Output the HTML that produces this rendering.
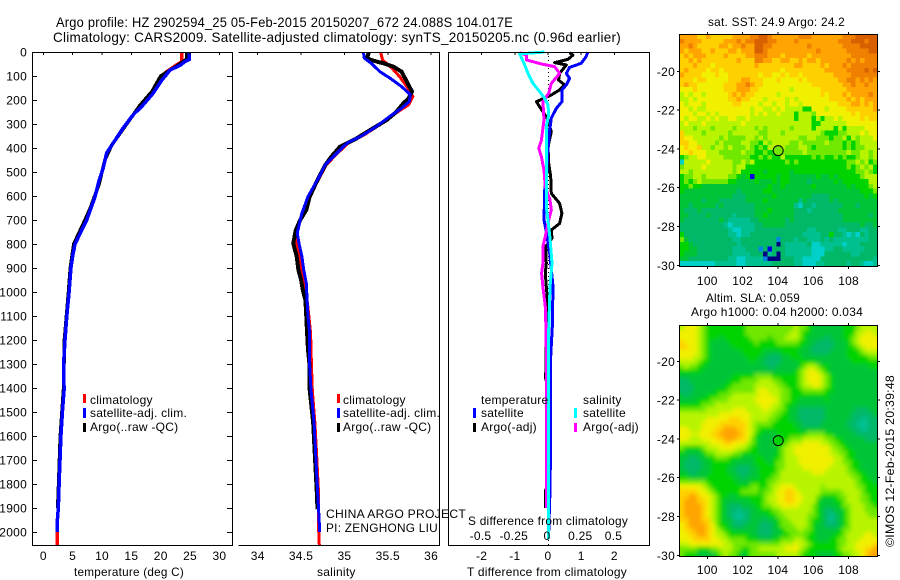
<!DOCTYPE html>
<html lang="en">
<head>
<meta charset="utf-8">
<title>Argo profile 2902594_25</title>
<style>
html,body{margin:0;padding:0;background:#fff;width:900px;height:580px;overflow:hidden}
svg{display:block}
text{font-family:"Liberation Sans",sans-serif;font-size:12px;fill:#000;letter-spacing:0.25px}
.frame{fill:none;stroke:#000;stroke-width:1;shape-rendering:crispEdges}
.mark{shape-rendering:crispEdges}
</style>
</head>
<body>
<svg id="chart" xmlns="http://www.w3.org/2000/svg" width="900" height="580" viewBox="0 0 900 580">
<defs>
<clipPath id="slaClip"><rect x="680" y="326" width="198" height="231"/></clipPath>
<filter id="slaSmooth" x="-5%" y="-5%" width="110%" height="110%">
<feGaussianBlur in="SourceGraphic" stdDeviation="2.2" result="soft"/>
<feMerge><feMergeNode in="SourceGraphic"/><feMergeNode in="soft"/></feMerge>
</filter>
</defs>
<rect x="0" y="0" width="900" height="580" fill="#fff"/>
<g id="sstMap"></g>
<g clip-path="url(#slaClip)"><g id="slaMap" filter="url(#slaSmooth)"></g></g>
<g id="traces"></g>
<g id="ticks"></g>

<path class="frame" d="M32.5 52.5H232.5V545.5H32.5Z"/>
<path class="frame" d="M238.5 52.5H439.5V545.5H238.5"/>
<rect class="frame" x="448.5" y="52.5" width="201" height="493"/>
<rect class="frame" x="679.5" y="34.5" width="198" height="232"/>
<rect class="frame" x="679.5" y="325.5" width="198" height="231"/>

<text x="56" y="27" style="font-size:14px" textLength="457" lengthAdjust="spacingAndGlyphs">Argo profile: HZ 2902594_25 05-Feb-2015 20150207_672 24.088S 104.017E</text>
<text x="53" y="42" style="font-size:14px" textLength="568" lengthAdjust="spacingAndGlyphs">Climatology: CARS2009. Satellite-adjusted climatology: synTS_20150205.nc (0.96d earlier)</text>

<text x="74" y="576" textLength="110" lengthAdjust="spacingAndGlyphs">temperature (deg C)</text>
<text x="317" y="576">salinity</text>
<text x="467" y="576" textLength="160" lengthAdjust="spacingAndGlyphs">T difference from climatology</text>
<text x="468" y="525" textLength="160" lengthAdjust="spacingAndGlyphs">S difference from climatology</text>

<g>
<rect class="mark" x="83" y="394" width="3" height="9" fill="#f00"/>
<rect class="mark" x="83" y="408" width="3" height="10" fill="#00f"/>
<rect class="mark" x="83" y="423" width="3" height="9" fill="#000"/>
<text x="90" y="404">climatology</text>
<text x="90" y="417">satellite-adj. clim.</text>
<text x="90" y="431">Argo(..raw -QC)</text>
</g>
<g>
<rect class="mark" x="337" y="394" width="3" height="9" fill="#f00"/>
<rect class="mark" x="337" y="408" width="3" height="10" fill="#00f"/>
<rect class="mark" x="337" y="423" width="3" height="9" fill="#000"/>
<text x="343" y="404">climatology</text>
<text x="343" y="417">satellite-adj. clim.</text>
<text x="343" y="431">Argo(..raw -QC)</text>
</g>
<g>
<text x="481" y="404">temperature</text>
<text x="583" y="404">salinity</text>
<rect class="mark" x="473" y="408" width="3" height="10" fill="#00f"/>
<rect class="mark" x="473" y="423" width="3" height="9" fill="#000"/>
<rect class="mark" x="574" y="408" width="3" height="10" fill="#0ff"/>
<rect class="mark" x="574" y="423" width="3" height="9" fill="#f0f"/>
<text x="481" y="417">satellite</text>
<text x="481" y="431">Argo(-adj)</text>
<text x="583" y="417">satellite</text>
<text x="583" y="431">Argo(-adj)</text>
</g>

<text x="326" y="518" textLength="140" lengthAdjust="spacingAndGlyphs">CHINA ARGO PROJECT</text>
<text x="326" y="532" textLength="112" lengthAdjust="spacingAndGlyphs">PI: ZENGHONG LIU</text>

<text x="708" y="26" textLength="137" lengthAdjust="spacingAndGlyphs">sat. SST: 24.9 Argo: 24.2</text>
<text x="706" y="302" textLength="94" lengthAdjust="spacingAndGlyphs">Altim. SLA: 0.059</text>
<text x="691" y="316" textLength="172" lengthAdjust="spacingAndGlyphs">Argo h1000: 0.04 h2000: 0.034</text>
<text transform="translate(894 547) rotate(-90)" textLength="172" lengthAdjust="spacingAndGlyphs">©IMOS 12-Feb-2015 20:39:48</text>
</svg>

<script>
// ---- temperature profile data (depth in dbar, temperature in deg C)
const tempClimDepth = [0,40,54,82,110,150,186,213,262,317,379,421,483,535,604,700,800,850,900,1000,1100,1200,1300,1408,1500,1600,1700,1800,1900,1950,2054];
const tempClimValue = [23.6,23.6,22.7,21,19.9,19,18.2,17,15.3,13.6,11.9,10.8,10.2,9.5,8.8,7.4,5.4,5,4.7,4.4,4,3.7,3.45,3.55,3.25,3,2.85,2.7,2.55,2.4,2.4];
const tempSatDepth = [0,30,40,54,75,117,172,221,262,317,379,421,483,535,604,700,800,850,900,1000,1100,1200,1300,1408,1500,1600,1700,1800,1900,1950,2000];
const tempSatValue = [24.87,24.9,24.1,23.4,21.6,20.2,18.7,17,15.3,13.6,11.9,10.8,10.2,9.5,8.8,7.4,5.4,5,4.7,4.4,4,3.7,3.45,3.55,3.25,3,2.85,2.7,2.55,2.4,2.4];
const tempArgoDepth = [0,30,54,100,165,221,290,388,450,550,650,700,800,900,1000,1200,1400,1600,1800,1900];
const tempArgoValue = [24.5,24.4,23,20,18.5,16.5,14.5,11.65,10.5,9.5,8,7.1,5.2,4.6,4.3,3.6,3.45,2.9,2.6,2.45];

// ---- salinity profile data
const salClimDepth = [3,33,68,104,144,186,220,269,310,345,380,422,470,533,602,672,727,776,797,852,908,964,1033,1103,1172,1311,1408,1546,1685,1825,1963,2054];
const salClimValue = [35.42,35.44,35.55,35.64,35.72,35.79,35.74,35.53,35.38,35.23,35.04,34.92,34.79,34.7,34.59,34.52,34.47,34.45,34.45,34.48,34.51,34.54,34.57,34.59,34.61,34.62,34.63,34.66,34.68,34.7,34.7,34.71];
const salSatDepth = [3,26,47,82,110,144,178,206,234,269,310,345,380,422,470,533,602,672,700,755,797,852,908,964,1033,1103,1172,1311,1408,1546,1685,1825,1963,2000];
const salSatValue = [35.22,35.23,35.31,35.41,35.53,35.66,35.76,35.75,35.66,35.52,35.37,35.22,35.03,34.91,34.78,34.69,34.58,34.51,34.49,34.457,34.476,34.51,34.53,34.56,34.57,34.58,34.6,34.6,34.615,34.65,34.67,34.69,34.71,34.71];
const salArgoDepth = [3,26,36,47,61,82,117,165,193,214,249,283,318,360,394,436,471,533,603,658,700,742,797,852,908,950,992,1033,1103,1172,1242,1311,1408,1546,1685,1825,1905];
const salArgoValue = [35.28,35.26,35.33,35.45,35.565,35.66,35.71,35.78,35.74,35.68,35.6,35.49,35.33,35.14,34.95,34.85,34.78,34.69,34.6,34.56,34.49,34.44,34.41,34.45,34.47,34.5,34.52,34.55,34.56,34.57,34.58,34.6,34.6,34.64,34.66,34.68,34.69];

// ---- difference-from-climatology data
const diffTSatDepth = [0,19,47,64,89,110,137,158,207,235,276,325,408,506,575,700,769,798,839,978,1144,1269,1436,1600,1825,2000];
const diffTSatValue = [1.2,1.15,1,0.65,0.55,0.65,0.55,0.42,0.42,0.25,0.1,0.05,0,-0.04,-0.1,-0.12,-0.02,0,0.05,0.15,0.13,0.08,0.08,0.08,0.06,0.02];
const diffTArgoDepth = [3,13,31,44,54,89,117,137,158,179,207,249,283,332,394,464,519,589,631,672,714,742,776,811,881,922,978,1061,1240,1360,1400,1800,1825,1900];
const diffTArgoValue = [0.65,0.75,0.6,0.2,0.55,0.35,0.32,0.5,0.35,0.1,-0.35,-0.15,0,0.1,0,0.02,0.08,0.1,0.35,0.42,0.35,0.1,0.12,-0.07,-0.05,-0.08,-0.05,0,-0.06,-0.07,0,0,-0.07,-0.07];
const diffSSatDepth = [0,8,54,89,131,165,193,221,262,311,506,644,728,776,811,881,978,1158,1325,1600,2030];
const diffSSatValue = [-0.025,-0.213,-0.175,-0.15,-0.113,-0.063,-0.025,0,0.005,-0.0125,-0.0125,-0.0125,0.005,0.015,0.02,0.03,0.015,0.005,0.003,0.003,0.004];
const diffSArgoDepth = [3,13,33,50,61,89,131,172,207,283,367,401,436,492,561,617,658,700,769,811,881,922,978,1061,1158,1269,1436,1900];
const diffSArgoValue = [-0.213,-0.163,-0.163,-0.05,0.05,0.088,0.025,0.005,-0.038,-0.03,-0.05,-0.07,-0.05,-0.03,-0.02,0.015,0.025,0.005,-0.02,-0.038,-0.038,-0.048,-0.038,-0.02,-0.015,-0.012,-0.012,-0.012];

// ---- axis tick labels
const depthTicks = [0,100,200,300,400,500,600,700,800,900,1000,1100,1200,1300,1400,1500,1600,1700,1800,1900,2000];
const tempTicks = [0,5,10,15,20,25,30];
const salTicks = [34,34.5,35,35.5,36];
const diffTTicks = [-2,-1,0,1,2];
const diffSTicks = [-0.5,-0.25,0,0.25,0.5];
const lonTicks = [100,102,104,106,108];
const latTicks = [20,22,24,26,28,30];

// ---- profile location
const argoLon = 104.017;
const argoLat = 24.088;

// ---- SST map colour levels (rows north to south, columns west to east)
const sstRows = [
[12,12,12,12,11,11,12,11,11,11,11,11,12,12,12,12,13,13,14,14,13,12,12,12,12,12,12,13,13,13,12,12,12,12,12,12,12,13,13,13,14,14,14,14,14],
[13,12,12,12,12,11,11,11,11,11,12,12,12,13,12,13,13,14,14,14,13,13,12,12,12,12,13,12,12,12,12,12,12,12,12,12,13,13,13,14,14,14,13,14,14],
[12,12,13,12,11,11,11,11,11,12,12,11,12,12,13,12,12,14,14,13,13,12,12,12,12,12,12,12,12,13,12,12,12,12,12,12,12,13,13,13,13,14,14,14,14],
[12,11,12,12,12,11,11,12,11,11,11,12,12,11,12,12,12,14,14,13,12,12,12,12,12,12,12,12,12,12,12,13,12,12,12,12,12,12,13,13,13,13,13,14,14],
[11,12,11,12,12,12,11,11,11,11,12,11,11,11,11,12,12,13,13,13,12,12,12,11,12,12,12,12,12,11,12,12,12,12,12,12,12,12,12,13,13,13,13,13,13],
[11,11,12,11,12,11,11,11,11,11,11,11,11,12,11,11,11,13,13,12,12,11,11,12,12,11,11,12,11,12,12,11,12,12,12,12,12,12,13,12,13,12,13,13,13],
[11,11,11,12,11,11,11,10,11,11,11,11,11,11,11,11,11,12,11,11,11,11,11,11,11,11,12,12,11,11,11,11,12,11,12,12,12,13,12,13,13,13,13,13,13],
[11,12,11,11,11,11,10,11,11,10,11,11,11,11,11,11,11,11,11,11,11,11,11,10,11,11,11,11,11,11,11,11,11,12,12,12,12,12,13,13,13,13,14,13,14],
[12,11,11,11,11,10,10,10,11,10,10,11,11,11,11,11,11,11,10,11,11,10,10,11,10,11,11,10,11,11,11,11,11,11,11,12,12,12,12,13,13,13,13,13,13],
[11,11,11,10,11,11,10,10,10,10,10,11,11,11,12,12,11,11,11,10,10,10,11,10,10,10,10,11,10,11,11,11,11,11,11,11,12,12,13,13,12,13,12,13,12],
[11,12,11,11,10,10,10,10,10,10,11,11,11,12,12,13,12,11,11,10,10,10,10,10,10,10,10,10,10,10,11,11,11,11,11,11,11,12,12,13,12,12,13,12,12],
[10,10,10,11,10,10,10,10,10,10,11,11,11,12,12,12,11,11,10,10,10,10,10,10,10,9,10,10,10,10,10,10,11,11,11,11,11,11,12,12,12,12,12,12,12],
[9,10,9,10,10,9,10,10,10,10,10,11,12,11,12,11,11,10,10,10,10,10,9,10,10,10,10,10,10,10,10,10,11,10,11,11,11,12,11,12,12,12,12,13,12],
[9,9,10,9,10,10,10,10,10,10,10,11,11,12,11,11,10,10,10,9,10,10,10,10,9,10,9,10,10,10,10,10,10,10,11,11,11,11,12,11,12,11,12,12,12],
[10,9,10,10,10,9,10,10,10,10,10,10,11,11,10,10,10,10,9,10,10,9,10,10,9,10,10,9,10,10,10,10,10,10,10,10,11,11,11,12,12,11,12,11,12],
[10,10,9,10,9,9,10,10,10,10,10,10,10,10,10,10,9,10,10,9,9,10,9,10,9,9,9,9,7,7,10,10,10,9,10,10,10,10,11,11,11,11,11,11,12],
[10,10,10,9,10,10,9,10,9,10,10,10,10,10,10,10,9,10,9,10,9,9,10,9,9,9,7,9,9,9,8,10,10,10,10,10,10,10,10,11,10,11,11,11,11],
[10,9,10,10,9,9,10,9,10,9,9,10,10,9,9,10,9,9,9,9,9,9,9,9,9,9,7,9,9,9,7,9,7,9,9,10,9,10,10,10,10,11,10,11,11],
[9,10,9,9,9,10,9,9,9,9,9,9,9,9,10,9,9,9,9,9,9,9,9,9,9,9,9,9,9,9,7,7,9,9,9,9,9,9,10,10,10,10,10,10,10],
[9,9,9,8,9,9,9,8,9,9,9,9,8,9,9,9,9,8,9,8,9,9,9,9,9,8,9,9,9,9,7,9,9,9,9,7,9,7,9,9,9,9,10,10,10],
[11,9,9,9,9,8,9,9,9,9,9,8,9,9,9,9,9,9,8,8,9,9,9,8,9,9,9,9,9,9,9,9,8,7,7,7,8,8,9,9,9,10,9,10,10],
[11,10,10,9,9,9,9,9,9,8,9,8,8,8,8,9,9,8,9,8,9,9,9,9,9,9,9,8,8,9,9,8,8,8,7,8,8,9,7,9,8,9,9,9,10],
[11,11,10,10,9,9,9,9,8,9,8,8,8,8,9,9,8,8,7,9,8,9,9,9,9,8,8,9,8,8,8,8,8,9,8,8,8,7,8,7,8,9,9,9,9],
[10,11,10,10,11,9,9,8,9,9,8,9,8,8,8,9,8,7,8,7,9,9,9,9,8,8,8,9,9,8,7,8,8,8,8,8,8,7,8,7,8,8,9,9,9],
[10,10,11,10,10,10,9,9,9,8,8,8,8,8,9,8,8,7,7,8,7,7,8,8,8,8,8,8,9,8,8,8,8,8,8,8,8,8,9,8,8,9,9,8,9],
[7,8,9,9,10,10,9,9,9,9,8,8,8,8,8,8,7,7,8,7,8,7,7,9,7,7,7,7,7,7,8,7,8,7,7,8,7,8,7,7,8,9,9,8,9],
[3,9,9,9,9,9,10,9,9,9,9,9,8,8,9,8,9,7,7,7,7,7,7,7,8,7,8,7,7,7,7,7,7,7,7,7,7,7,8,8,9,8,9,7,8],
[8,9,9,9,9,10,9,9,9,9,9,9,8,9,9,7,7,7,7,7,7,7,7,7,7,7,7,7,7,7,7,7,7,7,7,7,7,7,8,7,8,9,8,9,7],
[9,9,8,9,9,9,9,9,9,9,9,9,8,9,7,7,7,7,7,6,7,7,7,7,7,6,7,7,7,7,7,7,7,7,7,7,7,7,7,7,8,8,9,8,7],
[7,8,8,9,9,8,9,9,9,9,9,8,8,7,6,7,1,7,7,7,7,7,6,7,7,6,6,6,6,6,6,7,6,6,7,6,7,7,7,7,7,8,9,9,9],
[7,8,7,8,9,8,8,8,8,8,8,7,7,6,6,6,6,7,6,6,6,7,6,7,7,6,6,6,6,5,6,6,6,6,6,7,6,7,7,7,7,7,7,9,9],
[7,7,8,7,7,6,6,6,6,6,6,6,6,6,6,6,6,6,6,6,7,6,6,7,6,6,6,6,6,6,7,6,6,6,6,6,6,6,7,6,7,7,7,8,9],
[7,6,6,6,6,6,6,6,6,6,6,6,6,5,6,6,6,6,6,7,7,6,6,6,6,6,6,6,6,6,6,6,6,6,6,6,6,6,6,6,6,7,7,7,8],
[6,6,6,6,6,6,6,6,6,6,6,6,5,5,5,6,6,6,6,6,6,7,6,6,6,6,6,6,6,6,5,5,5,5,6,6,6,6,6,6,6,6,7,6,7],
[6,6,6,6,6,5,6,6,6,5,5,5,5,5,5,6,6,6,6,7,6,6,6,6,6,6,6,4,6,5,5,5,5,5,6,5,6,6,6,6,6,6,6,6,6],
[6,6,5,6,6,6,6,6,5,6,5,5,5,5,5,5,5,6,6,6,6,6,6,6,6,6,4,3,5,5,4,5,5,5,5,5,5,6,6,6,5,6,6,6,6],
[6,5,5,5,6,5,5,5,5,5,5,5,5,5,5,5,5,6,6,6,7,6,6,6,6,6,5,5,5,4,5,5,5,5,5,5,6,6,6,6,6,6,6,6,6],
[6,6,5,5,5,5,6,5,5,5,5,5,4,5,5,5,5,6,6,7,6,6,6,6,6,6,5,5,5,5,5,5,5,5,5,5,5,6,6,6,6,6,6,5,6],
[6,5,5,5,5,5,5,5,5,6,5,4,4,4,4,4,5,5,6,6,6,6,6,6,5,6,5,5,5,5,5,5,5,5,5,5,5,6,6,6,6,6,6,6,6],
[5,5,5,5,5,5,5,5,5,5,4,3,4,4,4,4,4,5,5,6,6,6,6,6,5,5,5,5,5,5,5,5,5,5,5,5,5,5,5,5,5,6,5,5,6],
[5,5,5,5,5,5,5,5,5,5,5,4,3,3,4,4,4,5,5,5,5,5,5,5,5,5,5,5,5,4,4,5,5,5,5,5,4,4,5,5,5,4,4,5,5],
[7,5,5,5,5,5,5,5,5,5,5,4,4,3,4,4,5,5,5,5,5,5,5,5,5,5,5,5,4,4,4,4,5,5,7,5,5,4,3,4,3,5,4,5,5],
[8,6,5,5,5,5,5,5,5,5,5,5,4,4,5,5,5,5,5,5,5,5,2,5,5,5,4,5,5,4,4,4,5,4,5,4,4,4,4,4,4,4,4,5,5],
[7,7,6,5,5,5,5,5,5,5,5,5,5,4,5,5,5,5,5,5,5,5,0,5,4,4,4,4,4,5,3,3,4,4,4,4,4,3,4,4,4,5,5,5,5],
[7,7,6,6,5,5,5,5,5,5,5,5,4,4,4,5,5,5,2,5,1,5,5,5,4,4,4,4,4,4,3,3,3,4,4,5,5,4,4,4,4,4,5,5,5],
[7,6,6,6,5,5,5,5,5,5,5,5,4,4,4,4,5,5,5,0,4,5,0,5,4,4,4,4,4,4,3,3,3,5,5,5,5,5,5,4,4,5,5,5,5],
[6,6,5,5,5,5,5,5,5,5,5,4,4,3,3,4,4,4,4,2,0,0,0,5,5,5,4,4,3,3,3,3,5,5,5,5,5,5,5,5,5,5,5,5,4],
[3,3,3,3,3,3,3,3,4,4,4,4,4,3,3,4,4,4,4,4,4,5,5,5,5,5,4,4,3,3,3,4,4,5,5,5,5,5,4,5,5,4,3,3,4]
];

// ---- sea level anomaly map colour levels
const slaRows = [
[9,10,10,10,9,8,7,7,7,7,7,7,7,7,7,8,8,8,8,8,8,8,8,8,8,8,9,8,8,7,6,6,6,6,6,6,6,7,7,7,8,9,9,9,9],
[10,10,10,10,9,8,7,7,7,7,7,7,7,7,7,8,8,8,8,8,8,8,8,8,8,9,9,8,7,7,6,6,6,6,6,6,6,7,7,7,9,9,10,10,9],
[10,10,10,10,9,8,7,7,7,6,7,7,7,7,7,7,8,8,8,8,7,8,8,8,9,9,9,8,7,6,6,6,6,5,6,6,6,7,7,8,9,10,10,10,10],
[11,10,10,10,9,8,7,6,6,6,6,7,7,7,7,7,7,8,7,7,7,7,8,8,8,8,8,7,7,6,6,5,5,5,5,6,6,6,7,8,9,10,10,10,10],
[11,11,10,10,9,8,7,6,6,6,6,6,7,7,7,7,7,7,7,7,7,7,7,7,7,7,7,7,6,6,5,5,5,5,5,6,6,6,7,7,8,9,10,10,10],
[10,10,10,10,9,8,7,6,6,6,6,6,6,6,7,7,7,7,7,6,6,6,6,7,7,7,7,6,6,6,5,5,5,5,6,6,6,6,7,7,7,8,9,9,9],
[10,10,10,9,9,8,7,6,6,6,6,6,6,6,6,7,7,7,6,6,5,5,5,6,6,7,7,7,6,6,6,6,6,6,6,6,6,6,7,7,7,7,7,8,8],
[9,9,9,9,8,7,7,6,6,6,6,6,6,6,6,6,7,6,6,5,5,5,5,6,6,6,6,7,7,7,7,6,6,6,6,6,6,6,6,7,7,7,7,7,7],
[8,9,8,8,7,7,6,6,6,6,6,6,6,6,6,6,6,6,6,6,5,5,6,6,6,6,6,7,8,9,9,8,7,7,6,6,6,6,6,6,6,6,6,7,7],
[7,7,7,7,7,6,6,6,6,6,6,6,6,6,6,6,6,6,6,6,6,6,6,6,6,6,7,8,9,10,10,9,8,7,6,6,6,6,6,6,6,6,6,6,6],
[6,6,6,6,6,6,6,6,6,6,6,6,7,7,7,7,7,8,8,8,8,7,7,7,7,7,7,8,9,10,10,10,9,8,7,6,6,6,6,6,6,6,6,6,6],
[5,5,6,6,6,6,6,6,6,6,6,7,7,7,8,8,8,8,9,9,9,8,8,7,7,7,7,8,9,10,10,10,9,8,7,6,6,6,6,6,6,6,6,6,6],
[5,5,5,6,6,6,6,6,6,6,7,7,8,8,8,8,8,9,9,9,9,9,8,8,7,7,7,8,9,9,10,10,9,8,7,6,6,6,6,6,6,6,6,6,6],
[5,5,5,6,6,6,6,6,7,7,7,8,8,8,8,8,8,9,10,10,9,9,9,8,8,7,7,7,8,8,8,8,8,7,7,6,6,6,6,6,6,6,6,6,6],
[6,5,6,6,6,6,7,7,7,8,8,8,9,9,9,9,9,9,10,10,10,9,9,8,8,7,7,7,7,7,7,7,7,7,6,6,6,6,6,6,6,6,6,6,6],
[6,6,6,6,7,7,7,8,8,8,8,9,9,9,9,9,9,10,10,10,10,10,9,8,8,7,7,6,6,6,6,6,6,7,6,6,6,6,6,6,6,6,6,6,6],
[7,7,7,7,7,8,8,8,9,9,9,9,9,9,9,9,9,9,10,10,10,9,9,8,7,7,6,6,6,6,6,6,6,6,6,6,6,6,6,6,6,6,6,6,6],
[8,8,8,8,8,8,9,9,9,9,9,9,10,10,10,9,9,9,9,10,9,9,8,8,7,6,6,5,5,5,5,5,5,6,6,6,6,6,6,6,5,5,5,6,6],
[9,9,9,9,9,9,9,9,9,10,10,10,10,10,10,10,9,9,9,9,9,8,8,7,7,6,6,5,5,5,5,5,5,6,6,6,6,6,6,5,5,5,5,5,6],
[9,9,9,9,9,9,10,10,10,10,10,11,11,11,10,10,9,9,9,9,8,8,7,7,7,6,6,5,5,5,5,5,5,6,6,6,6,6,6,5,5,4,4,5,5],
[9,9,9,9,9,10,10,10,10,11,11,11,11,11,11,10,9,8,8,8,8,7,7,7,7,7,6,6,5,5,5,5,6,6,6,6,6,6,5,5,4,4,4,5,5],
[10,10,9,9,9,10,10,10,11,11,12,12,12,11,11,10,9,8,7,7,7,7,7,7,7,7,7,6,6,6,6,6,6,6,6,6,6,6,6,5,5,4,4,5,5],
[10,10,10,9,10,10,10,11,11,12,12,12,12,12,11,10,9,7,7,6,6,6,7,7,7,7,7,7,7,8,8,8,8,7,7,6,6,6,6,6,5,5,5,5,5],
[10,10,9,9,9,10,10,10,11,11,12,12,12,11,11,10,8,7,6,6,6,6,7,7,7,8,8,8,9,9,9,9,9,8,8,7,7,6,6,6,6,6,5,5,5],
[9,9,9,9,9,9,9,10,10,10,11,11,10,10,10,9,8,7,6,6,6,6,7,7,8,9,9,9,10,10,10,10,9,9,8,8,7,7,6,6,6,6,6,6,6],
[8,7,7,7,7,8,9,9,9,10,10,10,10,9,9,8,7,7,6,6,6,6,7,8,9,9,10,10,10,10,10,10,10,10,9,8,8,7,7,6,6,6,6,6,6],
[7,6,6,6,6,7,8,8,9,9,9,9,8,8,7,7,7,7,6,6,6,6,7,8,9,9,10,10,10,10,10,10,10,10,9,9,8,8,7,7,6,6,6,6,6],
[6,6,5,5,6,6,7,7,8,8,8,7,7,7,6,6,6,7,7,6,6,7,7,8,9,9,9,10,10,10,10,10,10,10,10,9,9,8,7,7,6,6,6,6,6],
[6,5,5,5,5,6,6,7,7,7,7,7,6,6,6,6,6,7,7,7,6,7,8,8,9,9,9,10,10,10,10,10,10,10,10,9,9,8,8,7,7,6,6,6,6],
[6,5,5,5,5,6,6,7,7,7,7,6,6,5,5,5,6,6,7,7,7,7,8,8,9,9,9,9,10,10,10,10,10,10,9,9,9,9,8,7,7,6,6,6,6],
[6,6,5,5,6,6,6,7,7,7,7,6,6,5,5,5,6,6,7,7,7,7,8,9,9,9,9,9,9,9,10,10,10,9,9,9,9,9,8,8,7,7,6,6,6],
[7,7,6,6,6,6,7,7,7,7,7,7,6,6,5,6,6,6,7,7,7,8,8,9,9,9,9,9,9,9,9,9,9,9,9,9,9,9,9,8,8,7,7,6,6],
[8,8,8,8,8,8,7,7,7,7,7,7,7,6,6,6,7,7,7,7,8,8,9,9,9,9,9,9,9,9,9,9,9,9,9,9,9,9,9,9,8,7,7,7,6],
[10,10,10,10,10,9,8,7,7,7,7,7,7,7,7,7,8,8,7,7,8,9,9,10,10,10,9,9,9,9,9,9,8,9,9,9,9,9,9,9,8,8,7,7,7],
[11,11,11,11,10,10,9,8,7,7,7,7,7,7,8,8,8,8,7,8,8,9,10,10,11,11,10,9,9,9,9,9,8,8,8,8,8,9,9,9,9,8,7,7,7],
[11,11,12,12,11,10,10,9,8,7,7,6,6,7,7,7,7,7,7,8,9,9,10,10,11,11,10,10,9,9,9,8,7,7,7,7,8,8,9,9,9,8,8,7,7],
[11,12,12,12,11,11,10,9,8,7,6,6,6,6,6,6,7,7,7,8,9,9,10,10,11,11,10,10,9,9,9,7,6,6,6,7,7,8,9,9,9,8,8,7,7],
[11,12,12,12,12,11,10,9,8,7,6,5,5,5,6,6,6,7,7,8,8,9,9,10,10,10,10,9,9,9,8,7,6,6,6,6,7,8,8,9,9,9,8,8,7],
[11,12,12,12,12,11,10,9,8,7,6,5,5,4,5,5,6,6,7,7,7,8,8,9,9,9,9,9,9,9,8,7,6,5,5,6,6,7,8,9,9,9,8,8,8],
[11,12,12,12,12,11,10,9,8,7,6,5,4,4,4,5,6,6,6,6,7,7,8,8,9,9,9,9,9,8,8,7,6,5,4,5,6,7,8,9,9,9,9,8,8],
[11,11,12,12,12,11,11,9,8,7,6,6,5,4,5,5,6,6,6,5,6,6,7,8,8,9,9,9,9,8,7,7,6,5,4,5,6,7,8,9,9,9,9,9,9],
[10,11,12,12,12,12,11,10,8,7,7,6,5,5,5,6,6,6,5,5,5,6,7,8,8,8,9,9,9,8,7,6,6,5,5,5,6,7,8,9,9,9,9,9,9],
[10,11,11,12,12,12,11,10,9,8,7,7,6,6,6,6,6,6,5,5,5,6,6,7,8,8,8,9,8,8,7,6,6,6,6,6,7,8,8,9,9,9,9,9,9],
[10,10,11,11,12,12,11,10,9,9,8,7,7,7,7,7,6,6,5,5,5,6,6,7,7,8,8,8,8,7,7,6,6,6,6,7,7,8,9,9,9,9,10,10,9],
[10,10,10,11,11,11,11,10,10,9,9,8,8,8,8,7,7,7,6,6,6,7,7,8,8,8,9,9,8,7,7,6,6,6,7,7,8,8,9,9,9,10,10,10,10],
[9,9,10,10,10,10,10,10,10,10,9,9,8,8,8,8,8,8,8,8,8,8,8,9,9,9,10,9,9,8,7,7,7,7,7,7,8,8,9,9,10,10,10,10,11],
[8,8,8,8,7,7,7,8,8,9,9,9,8,8,7,7,8,8,9,9,9,9,9,9,10,10,10,9,8,7,7,7,7,7,7,7,8,9,9,9,10,10,11,11,12],
[8,7,7,7,6,6,6,6,7,8,9,8,8,7,6,7,8,8,8,8,8,8,9,9,9,9,9,8,7,7,7,6,6,6,6,7,7,8,8,9,9,10,11,12,12]
];

const mapPalette = ['#000080','#0000e0','#0088e0','#00d0c8','#00c090','#00b868','#00c438','#00d400','#70e800','#b8f400','#f0f000','#ffd000','#ffa400','#f08000','#d86000'];

// ---- axis functions
const yDepth = d => 52 + 0.24 * d;
const xTemp = t => 43.3 + 5.87 * t;
const xSal = s => 257.7 + 86.7 * (s - 34);
const xDiffT = t => 548 + 33.2 * t;
const xDiffS = s => 548 + 133 * s;
const xLon = lon => 707.3 + 17.66 * (lon - 100);
const ySst = lat => 71.3 + 19.4 * (lat - 20);
const ySla = lat => 361.3 + 19.4 * (lat - 20);

const NS = 'http://www.w3.org/2000/svg';
function mk(tag, attrs, parent) {
  const el = document.createElementNS(NS, tag);
  for (const k in attrs) el.setAttribute(k, attrs[k]);
  parent.appendChild(el);
  return el;
}
const traceLayer = document.getElementById('traces');
const tickLayer = document.getElementById('ticks');
const svgRoot = document.getElementById('chart');

function drawTrace(depths, values, xFn, color, width, name) {
  const pts = depths.map((d, i) => xFn(values[i]).toFixed(1) + ',' + yDepth(d).toFixed(1)).join(' ');
  const el = mk('polyline', {points: pts, fill: 'none', stroke: color, 'stroke-width': width, 'stroke-linejoin': 'round', 'shape-rendering': 'crispEdges'}, traceLayer);
  
  
}
function tickLine(x1, y1, x2, y2) {
  const el = mk('line', {x1: x1, y1: y1, x2: x2, y2: y2, stroke: '#000', 'stroke-width': 1, 'shape-rendering': 'crispEdges'}, tickLayer);
  
  
}
function label(x, y, str, anchor) {
  const el = mk('text', {x: x, y: y, 'text-anchor': anchor}, svgRoot);
  el.textContent = str;
  
  
}

// profile traces
drawTrace(tempClimDepth, tempClimValue, xTemp, '#f00', 3.5, 'temperature-climatology-line');
drawTrace(tempArgoDepth, tempArgoValue, xTemp, '#000', 3.5, 'temperature-argo-line');
drawTrace(tempSatDepth, tempSatValue, xTemp, '#00f', 3.5, 'temperature-satellite-line');
drawTrace(salClimDepth, salClimValue, xSal, '#f00', 3, 'salinity-climatology-line');
drawTrace(salArgoDepth, salArgoValue, xSal, '#000', 4, 'salinity-argo-line');
drawTrace(salSatDepth, salSatValue, xSal, '#00f', 3, 'salinity-satellite-line');

const zeroLine = mk('line', {x1: xDiffT(0) + 0.5, y1: 52, x2: xDiffT(0) + 0.5, y2: 545, stroke: '#000', 'stroke-width': 1, 'stroke-dasharray': '1 3', 'shape-rendering': 'crispEdges'}, traceLayer);



drawTrace(diffTArgoDepth, diffTArgoValue, xDiffT, '#000', 3, 't-difference-argo-line');
drawTrace(diffTSatDepth, diffTSatValue, xDiffT, '#00f', 3, 't-difference-satellite-line');
drawTrace(diffSArgoDepth, diffSArgoValue, xDiffS, '#f0f', 3, 's-difference-argo-line');
drawTrace(diffSSatDepth, diffSSatValue, xDiffS, '#0ff', 3, 's-difference-satellite-line');

// profile axis ticks
depthTicks.forEach(d => {
  tickLine(33, Math.round(yDepth(d)) + 0.5, 37, Math.round(yDepth(d)) + 0.5);
  tickLine(227, Math.round(yDepth(d)) + 0.5, 232, Math.round(yDepth(d)) + 0.5);
  label(27, yDepth(d) + 4.5, String(d), 'end');
});
tempTicks.forEach(t => {
  tickLine(xTemp(t), 52, xTemp(t), 55);
  label(xTemp(t), 560, String(t), 'middle');
});
salTicks.forEach(s => {
  tickLine(xSal(s), 52, xSal(s), 55);
  label(xSal(s), 560, String(s), 'middle');
});
diffTTicks.forEach(t => {
  tickLine(xDiffT(t), 52, xDiffT(t), 55);
  label(xDiffT(t), 560, String(t), 'middle');
});
diffSTicks.forEach(s => {
  label(xDiffS(s) - 1, 540, String(s), 'middle');
});

// map cells
function drawMap(rows, lat0, latStep, yFn, layerId, name) {
  const layer = document.getElementById(layerId);
  const lon0 = 98.43, lonStep = 0.249;
  rows.forEach((row, r) => {
    row.forEach((v, c) => {
      const x = xLon(lon0 + lonStep * c);
      const y = yFn(lat0 + latStep * r);
      const w = xLon(lon0 + lonStep * (c + 1)) - x + 0.6;
      const h = yFn(lat0 + latStep * (r + 1)) - y + 0.6;
      const cell = mk('rect', {x: x.toFixed(2), y: y.toFixed(2), width: w.toFixed(2), height: h.toFixed(2), fill: mapPalette[v], 'shape-rendering': 'crispEdges'}, layer);
      
      
    });
  });
}
drawMap(sstRows, 18.08, 0.2490, ySst, 'sstMap', 'sst-cell');
drawMap(slaRows, 18.165, 0.2475, ySla, 'slaMap', 'sla-cell');

// map axes
function mapAxes(yFn, top, bottom, labelY) {
  lonTicks.forEach(lon => {
    tickLine(xLon(lon), top - 2, xLon(lon), top);
    tickLine(xLon(lon), bottom, xLon(lon), bottom + 2);
    label(xLon(lon), labelY, String(lon), 'middle');
  });
  latTicks.forEach(lat => {
    tickLine(677, yFn(lat), 679, yFn(lat));
    tickLine(878, yFn(lat), 880, yFn(lat));
    label(675, yFn(lat) + 4.5, String(-lat), 'end');
  });
}
mapAxes(ySst, 34, 267, 285);
mapAxes(ySla, 325, 557, 574);

const sstCircle = mk('circle', {cx: xLon(argoLon).toFixed(1), cy: ySst(argoLat).toFixed(1), r: 5, fill: mapPalette[8], stroke: '#000', 'stroke-width': 1}, svgRoot);


const slaCircle = mk('circle', {cx: xLon(argoLon).toFixed(1), cy: ySla(argoLat).toFixed(1), r: 5, fill: mapPalette[7], stroke: '#000', 'stroke-width': 1}, svgRoot);


</script>
</body>
</html>
